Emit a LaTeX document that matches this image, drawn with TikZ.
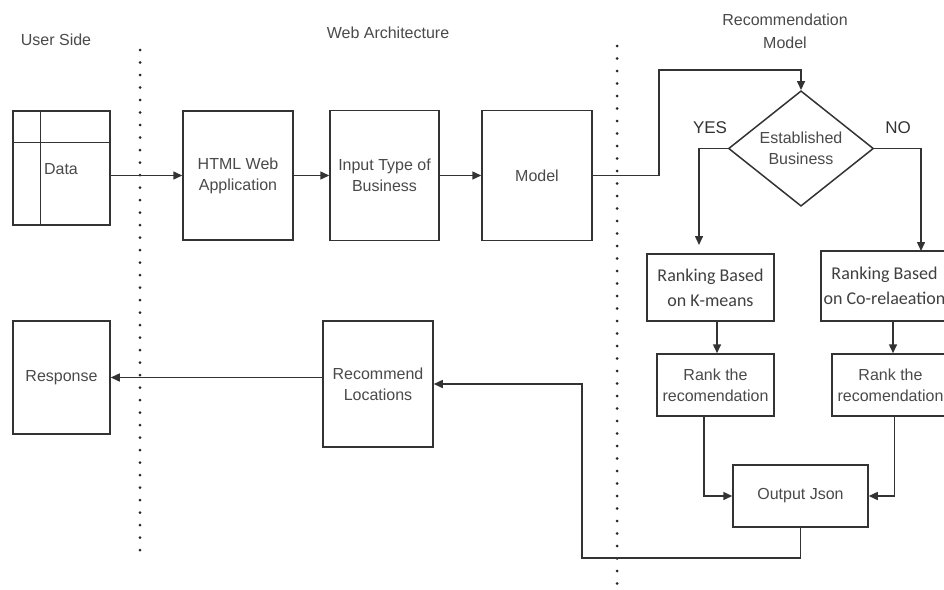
\documentclass[tikz,border=0pt]{standalone}
\usepackage{fontspec}
\setmainfont{Liberation Sans}
\newfontfamily\calfont{Carlito}
\usetikzlibrary{shapes.geometric,arrows.meta,calc}
\definecolor{lc}{HTML}{333333}
\definecolor{tc}{HTML}{4a4a4a}
\tikzset{
  box/.style={draw=lc, line width=1.5pt, rectangle, inner sep=2pt, align=center,
    text=tc, font=\fontsize{16}{21}\selectfont},
  calbox/.style={box, font=\calfont\fontsize{18}{25}\selectfont, text=black!75},
  conn/.style={draw=lc, line width=1.5pt, -{Triangle[length=9pt,width=8pt]}},
  plain/.style={draw=lc, line width=1.5pt},
  sep/.style={draw=black!85, line width=3pt, line cap=round, dash pattern=on 0pt off 12.5pt},
  lbl/.style={text=tc, font=\fontsize{16}{23}\selectfont, align=center},
}
\begin{document}
\begin{tikzpicture}[x=1pt,y=-1pt]
\path[use as bounding box, clip] (0,0) rectangle (944,589);
\fill[white] (0,0) rectangle (944,589);

% section labels
\node[lbl] (lu) at (56,40) {User Side};
\node[lbl] (lw) at (388,33) {Web Architecture};
\node[lbl] (lr) at (785,31) {Recommendation\\Model};

% separators
\coordinate (s1a) at (140,50);
\coordinate (s1b) at (140,555);
\coordinate (s2a) at (617,46);
\coordinate (s2b) at (617,595);
\draw[sep] (s1a) -- (s1b);
\draw[sep] (s2a) -- (s2b);

% nodes
\node[box, minimum width=97pt, minimum height=114pt] (data) at (61.5,168) {};
\node[text=tc, font=\fontsize{16}{21}\selectfont] (datat) at (61,169) {Data};
\node[box, minimum width=110pt, minimum height=129pt] (html) at (238,175.5) {HTML Web\\Application};
\node[box, minimum width=109pt, minimum height=130pt] (input) at (384.5,175.5) {Input Type of\\Business};
\node[box, minimum width=110pt, minimum height=130pt] (model) at (537,175.5) {Model};
\node[box, diamond, minimum width=145pt, minimum height=113pt, inner sep=0pt] (dec) at (801,148.5) {Established\\Business};
\node[calbox, minimum width=127pt, minimum height=67pt] (km) at (710.5,287.5) {Ranking Based\\on K-means};
\node[calbox, minimum width=127pt, minimum height=70pt] (corr) at (884.5,286) {Ranking Based\\on Co-relaeation};
\node[box, minimum width=117pt, minimum height=62pt] (rank1) at (715.5,385) {Rank the\\recomendation};
\node[box, minimum width=117pt, minimum height=62pt] (rank2) at (890.5,385) {Rank the\\recomendation};
\node[box, minimum width=135pt, minimum height=62pt] (out) at (800.5,496) {Output Json};
\node[box, minimum width=110pt, minimum height=126pt] (rec) at (378,384) {Recommend\\Locations};
\node[box, minimum width=97pt, minimum height=113pt] (resp) at (61.5,377.5) {Response};

% table lines in data
\draw[plain] ([xshift=28pt]data.north west) -- ([xshift=28pt]data.south west);
\draw[plain] ([yshift=-32pt]data.north west) -- ([yshift=-32pt]data.north east);

% YES / NO
\node[text=black!80, font=\fontsize{17}{20}\selectfont] (yes) at (710,128) {YES};
\node[text=black!80, font=\fontsize{17}{20}\selectfont] (no) at (898,128) {NO};

% connectors
\draw[conn] (data.east |- html.west) -- (html.west);
\draw[conn] (html.east) -- (input.west);
\draw[conn] (input.east) -- (model.west);
\coordinate (c1) at (659,70);
\draw[conn] (model.east) -| (c1) -| (dec.north);
\coordinate (ky) at (699,245);
\draw[conn] (dec.west) -| (ky);
\coordinate (ny) at (921,251);
\draw[conn] (dec.east) -| (ny);
\draw[conn] ([xshift=6.5pt]km.south) -- ([xshift=6.5pt]km.south |- rank1.north);
\draw[conn] ([xshift=8.5pt]corr.south) -- ([xshift=8.5pt]corr.south |- rank2.north);
\draw[conn] ([xshift=-11.5pt]rank1.south) |- (out.west);
\draw[conn] ([xshift=4pt]rank2.south) |- (out.east);
\coordinate (b2) at (582,558);
\draw[conn] (out.south) |- (b2) |- (rec.east);
\draw[conn] (rec.west |- resp.east) -- (resp.east);
\end{tikzpicture}
\end{document}
